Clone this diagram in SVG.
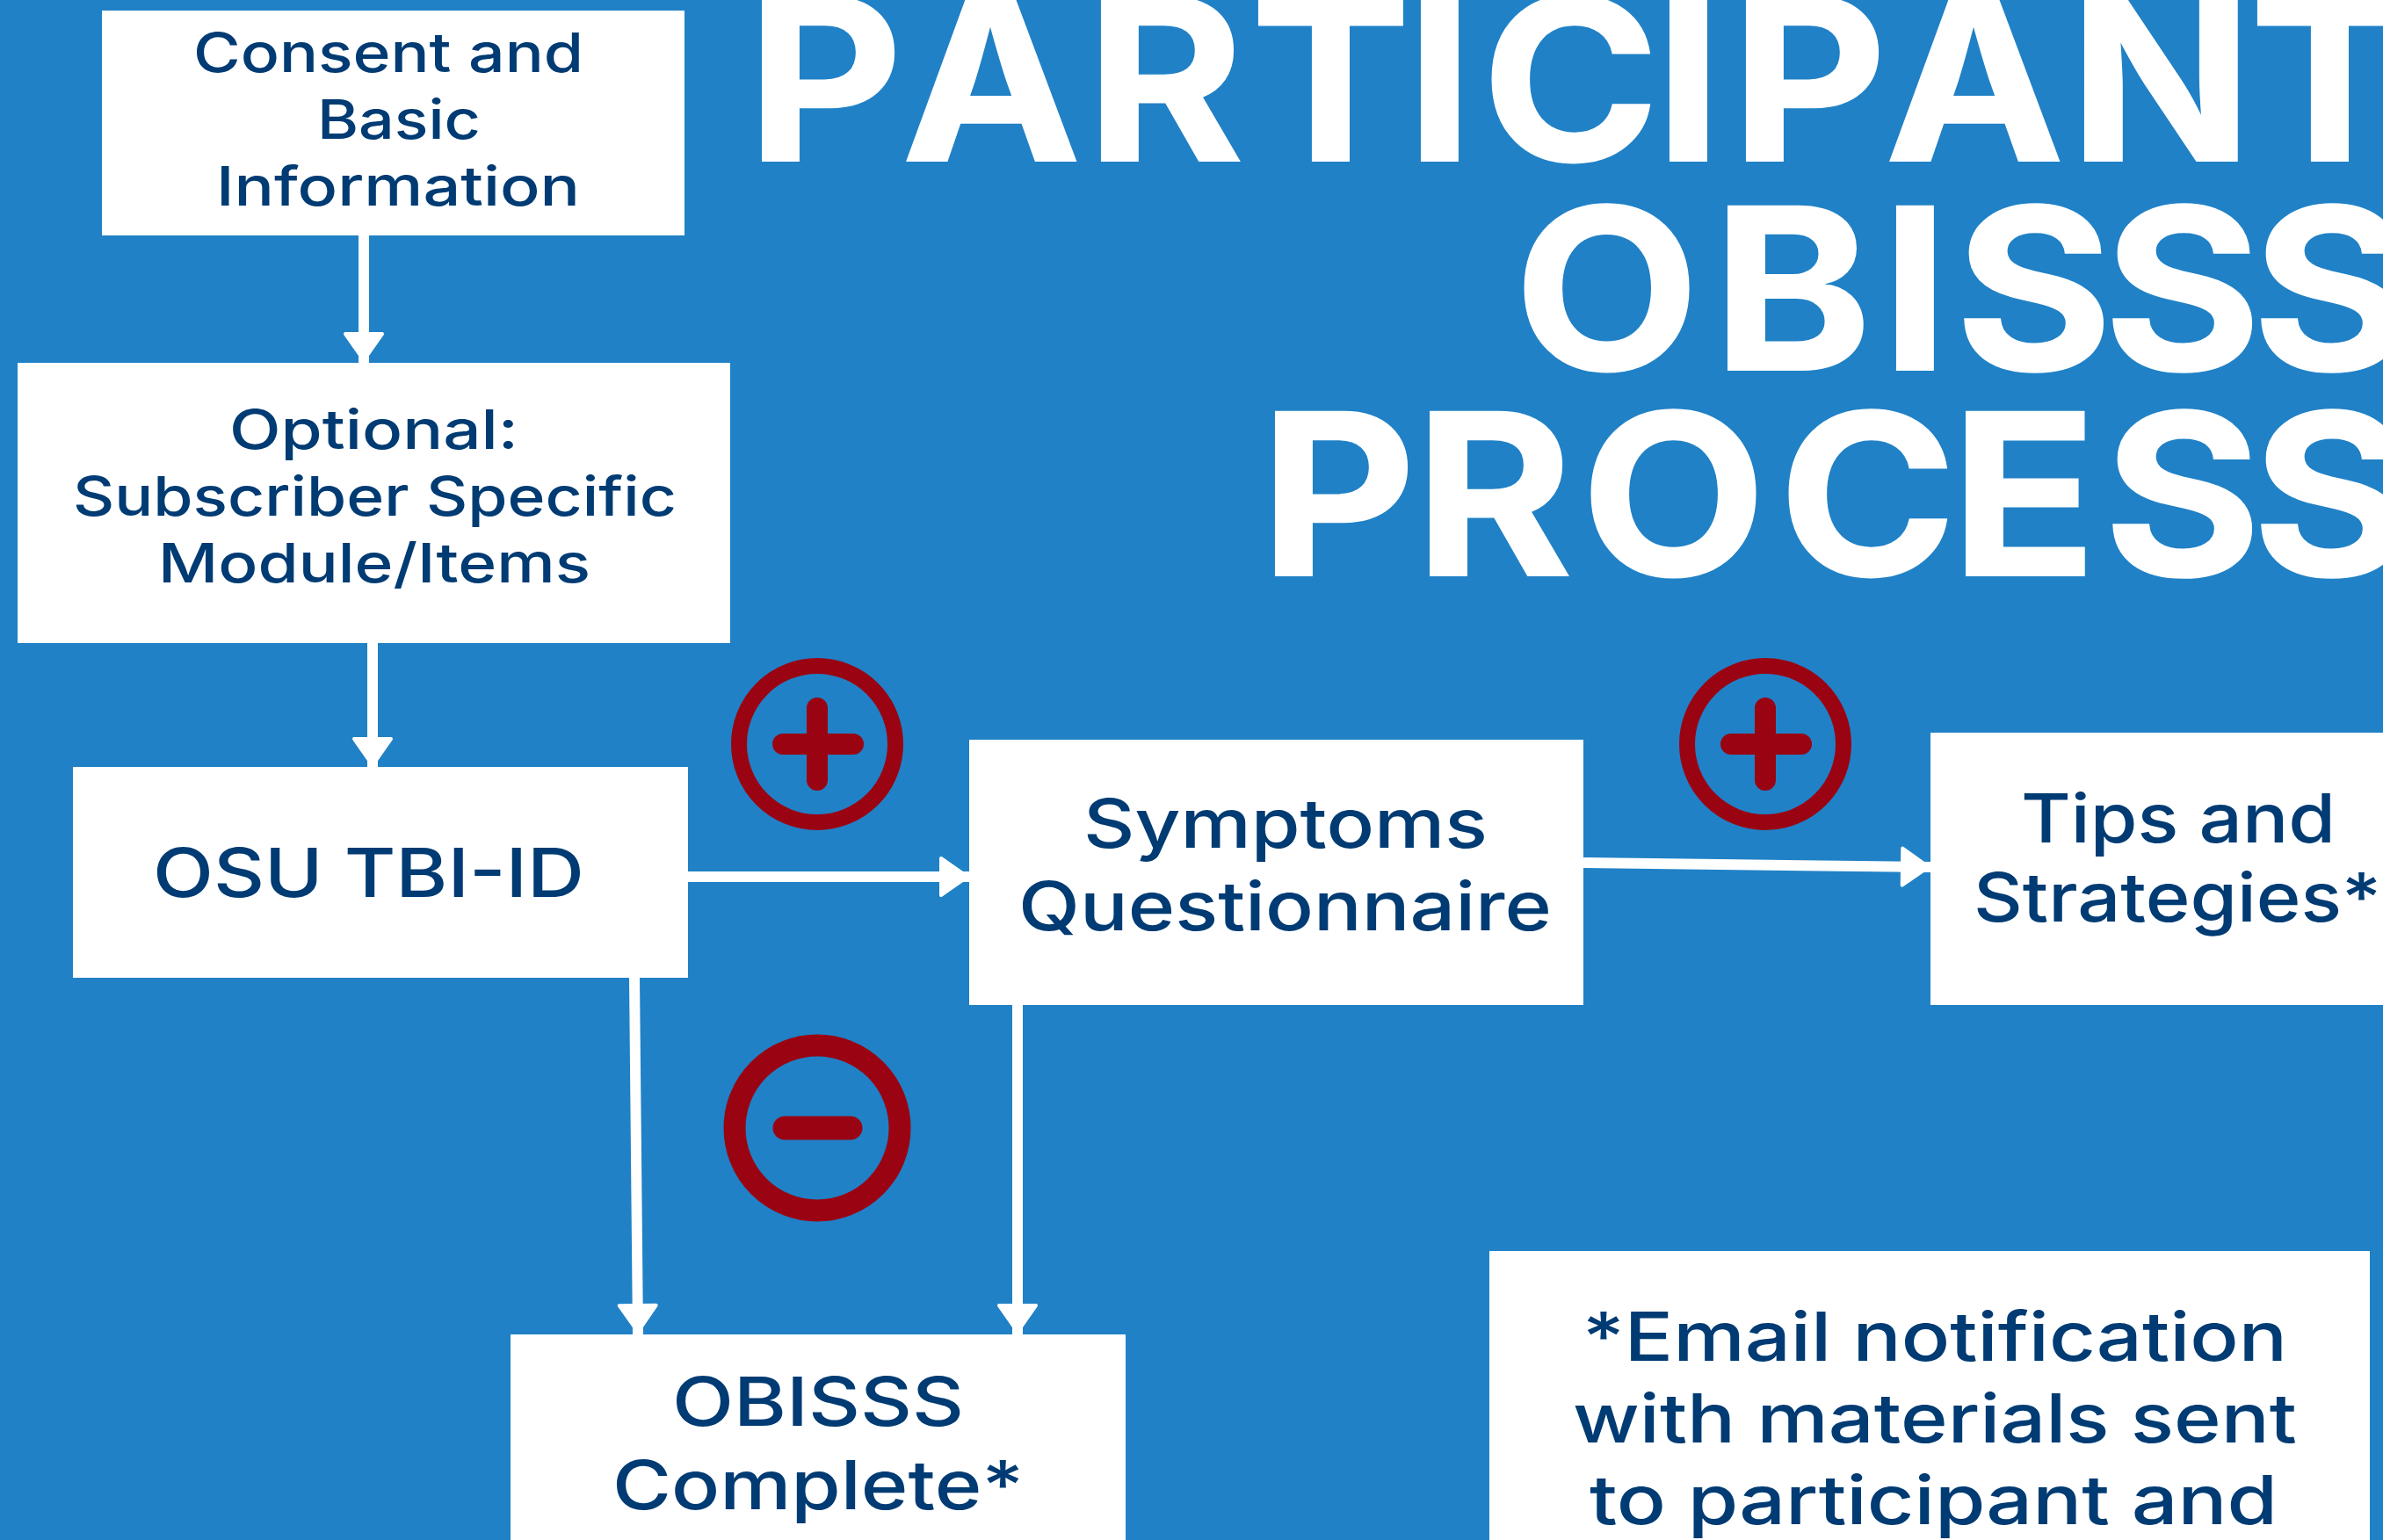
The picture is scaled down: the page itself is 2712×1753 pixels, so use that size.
<svg xmlns="http://www.w3.org/2000/svg" width="2712" height="1753" viewBox="0 0 2712 1753">
<style>
.box{fill:#fff}
.t{font-family:"Inter","Liberation Sans",sans-serif;font-weight:500;fill:#003b73}
.s{font-size:62px}
.m{font-size:77px}
.title{font-family:"Inter","Liberation Sans",sans-serif;font-weight:700;font-size:256px;fill:#fff;stroke:#fff;stroke-width:2px}
.c{stroke:#fff;stroke-width:12;fill:none;marker-end:url(#ah)}
.ring{fill:none;stroke:#9a0412}
.bar{stroke:#9a0412;stroke-linecap:round;fill:none}
</style>
<defs>
<marker id="ah" markerUnits="userSpaceOnUse" markerWidth="40" markerHeight="50" refX="37" refY="25" orient="auto">
<path d="M4,4 L34,25 L4,46 Z" fill="#fff" stroke="#fff" stroke-width="4" stroke-linejoin="round"/>
</marker>
</defs>
<rect width="2712" height="1753" fill="#2081c6"/>
<g id="title" transform="scale(1.07,1)">
<text class="title" x="794.4 958.9 1155.1 1329.9 1495.3 1575.7 1759.8 1841.1 2004.7 2200.9 2392.5" y="183">PARTICIPANT</text>
<text class="title" x="1610.3 1821.5 2000.9 2079.4 2237.4 2395.3" y="421">OBISSS</text>
<text class="title" x="1340.2 1504.7 1681.3 1891.6 2074.8 2237.4 2395.3" y="655">PROCESS</text>
</g>
<g id="connectors">
<line class="c" x1="414" y1="268" x2="414" y2="413"/>
<line class="c" x1="424" y1="732" x2="424" y2="874"/>
<line class="c" x1="782" y1="998" x2="1104" y2="998"/>
<line class="c" x1="1802" y1="982" x2="2198" y2="987"/>
<line class="c" x1="722" y1="1112" x2="726" y2="1519"/>
<line class="c" x1="1158" y1="1143" x2="1158" y2="1519"/>
</g>
<g id="consent">
<rect class="box" x="116" y="12" width="663" height="256"/>
<text class="t s" x="220" y="82" textLength="444" lengthAdjust="spacingAndGlyphs">Consent and</text>
<text class="t s" x="361" y="158" textLength="186" lengthAdjust="spacingAndGlyphs">Basic</text>
<text class="t s" x="246" y="234" textLength="414" lengthAdjust="spacingAndGlyphs">Information</text>
</g>
<g id="optional">
<rect class="box" x="20" y="413" width="811" height="319"/>
<text class="t s" x="261" y="511" textLength="329" lengthAdjust="spacingAndGlyphs">Optional:</text>
<text class="t s" x="83" y="587" textLength="687" lengthAdjust="spacingAndGlyphs">Subscriber Specific</text>
<text class="t s" x="180" y="663" textLength="492" lengthAdjust="spacingAndGlyphs">Module/Items</text>
</g>
<g id="osu">
<rect class="box" x="83" y="873" width="700" height="240"/>
<text class="t m" x="174" y="1021" textLength="491" lengthAdjust="spacingAndGlyphs">OSU TBI-ID</text>
</g>
<g id="symptoms">
<rect class="box" x="1103" y="842" width="699" height="302"/>
<text class="t m" x="1233" y="965" textLength="460" lengthAdjust="spacingAndGlyphs">Symptoms</text>
<text class="t m" x="1159" y="1059" textLength="607" lengthAdjust="spacingAndGlyphs">Questionnaire</text>
</g>
<g id="tips">
<rect class="box" x="2197" y="834" width="515" height="310"/>
<text class="t m" x="2300" y="959" textLength="358" lengthAdjust="spacingAndGlyphs">Tips and</text>
<text class="t m" x="2246" y="1049" textLength="464" lengthAdjust="spacingAndGlyphs">Strategies*</text>
</g>
<g id="complete">
<rect class="box" x="581" y="1519" width="700" height="234"/>
<text class="t m" x="765" y="1623" textLength="332" lengthAdjust="spacingAndGlyphs">OBISSS</text>
<text class="t m" x="697" y="1718" textLength="468" lengthAdjust="spacingAndGlyphs">Complete*</text>
</g>
<g id="email">
<rect class="box" x="1695" y="1424" width="1002" height="329"/>
<text class="t m" x="1801" y="1549" textLength="802" lengthAdjust="spacingAndGlyphs">*Email notification</text>
<text class="t m" x="1790" y="1642" textLength="824" lengthAdjust="spacingAndGlyphs">with materials sent</text>
<text class="t m" x="1809" y="1735" textLength="783" lengthAdjust="spacingAndGlyphs">to participant and</text>
</g>
<g id="plus-1">
<circle class="ring" cx="930" cy="847" r="89" stroke-width="18"/>
<path class="bar" stroke-width="24" d="M891,847 H971 M930,806 V888"/>
</g>
<g id="minus">
<circle class="ring" cx="930" cy="1284" r="94" stroke-width="25"/>
<path class="bar" stroke-width="27" d="M893,1284 H968"/>
</g>
<g id="plus-2">
<circle class="ring" cx="2009" cy="847" r="89" stroke-width="18"/>
<path class="bar" stroke-width="24" d="M1970,847 H2050 M2009,806 V888"/>
</g>
</svg>
